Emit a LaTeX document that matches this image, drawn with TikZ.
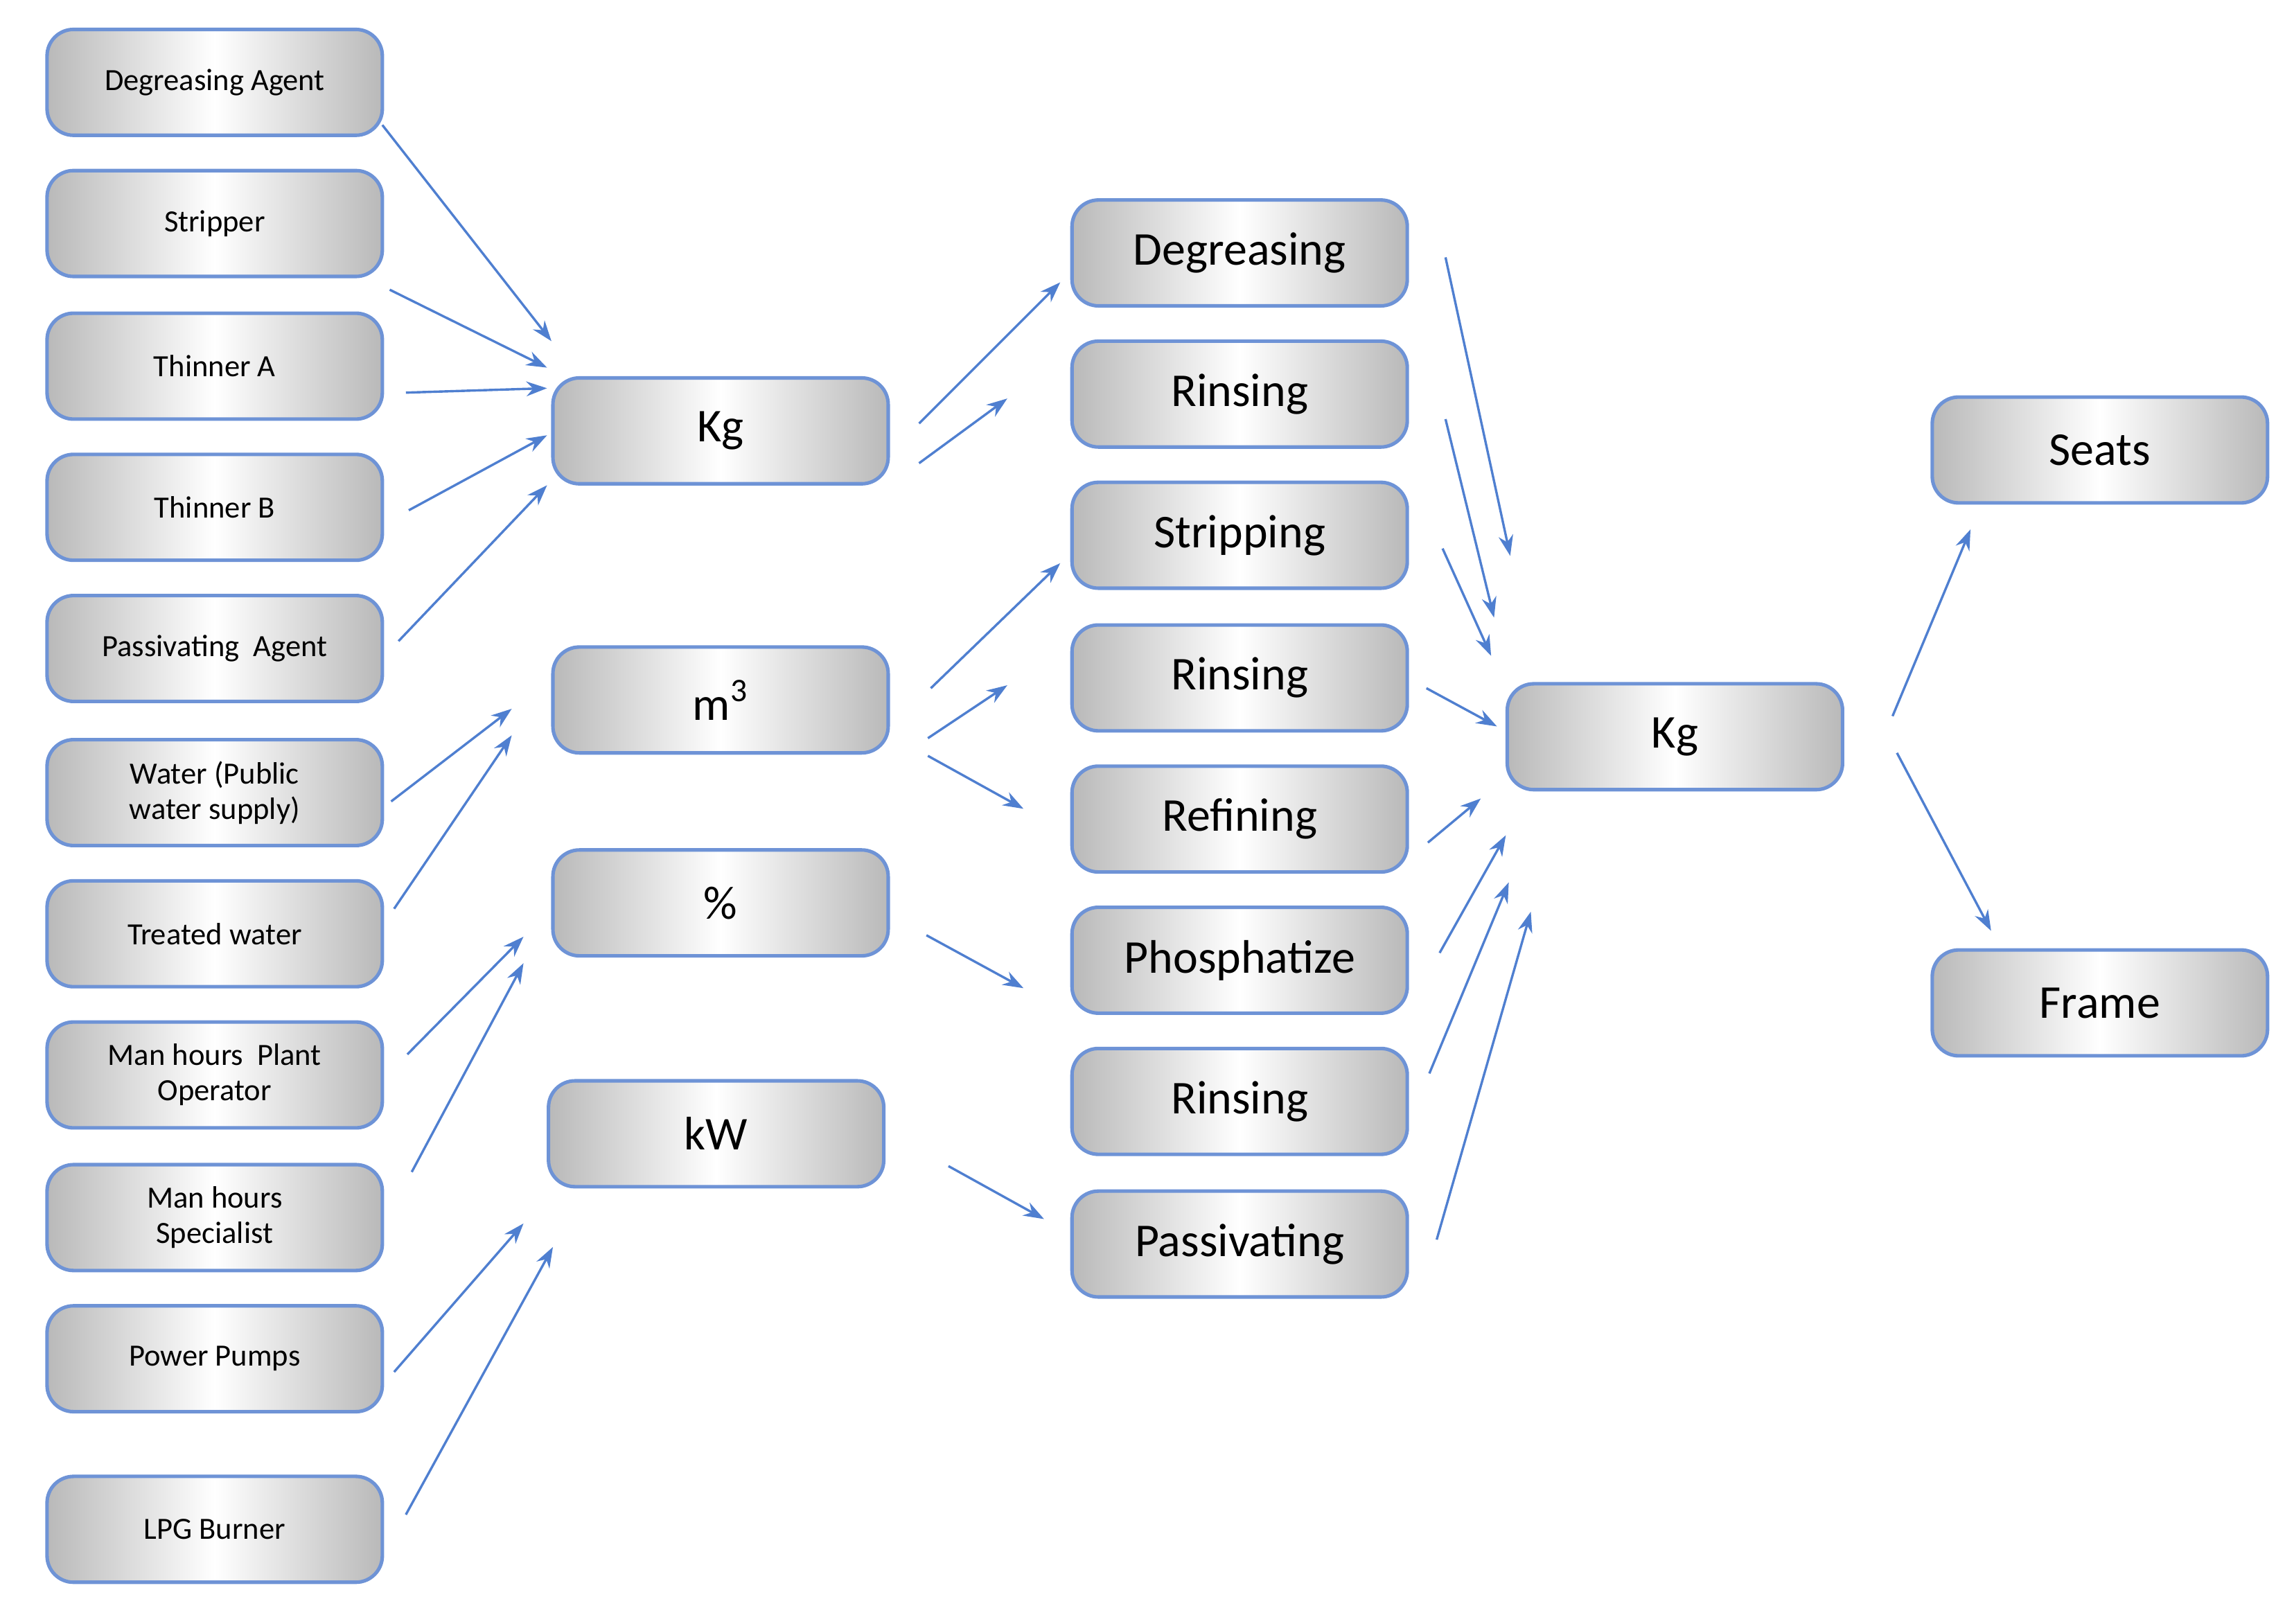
\documentclass[tikz,border=0pt]{standalone}
\usepackage{fontspec}
\setmainfont{Carlito}
\usetikzlibrary{arrows.meta}
\definecolor{bl}{HTML}{4F7FD0}
\definecolor{bd}{HTML}{6E93D6}
\tikzset{
 box/.style={draw=bd,line width=1.2pt,rounded corners=9pt,minimum width=114pt,minimum height=36pt,
   inner sep=1pt,align=center,left color=gray!55,right color=gray!55,middle color=white,
   font=\fontsize{10.5}{12}\selectfont},
 big/.style={box,font=\fontsize{16}{18}\selectfont},
 ar/.style={draw=bl,line width=0.8pt,-{Stealth[length=7pt,width=5pt]}}
}
\begin{document}
\begin{tikzpicture}[x=0.5pt,y=-0.5pt]
\useasboundingbox (0,0) rectangle (1560,1104);
\foreach \t/\y [count=\i] in {Degreasing Agent/56,Stripper/152,Thinner A/249,Thinner B/345,Passivating\ \ Agent/441,{Water (Public\\water supply)}/539,Treated water/635,{Man hours\ \ Plant\\Operator}/731,{Man hours\\Specialist}/828,Power Pumps/924,LPG Burner/1040}
  \node[box] (L\i) at (146,\y) {\t};
\node[big] (kg) at (490,293) {Kg};
\node[big] (m3) at (490,476) {m\textsuperscript{3}};
\node[big] (pc) at (490,614) {\%};
\node[big] (kw) at (487,771) {kW};
\foreach \t/\y [count=\i] in {Degreasing/172,Rinsing/268,Stripping/364,Rinsing/461,Refining/557,Phosphatize/653,Rinsing/749,Passivating/846}
  \node[big] (M\i) at (843,\y) {\t};
\node[big] (kg2) at (1139,501) {Kg};
\node[big] (seats) at (1428,306) {Seats};
\node[big] (frame) at (1428,682) {Frame};
\foreach \a/\b in {{260,85}/{375,232},{265,197}/{372,250},{276,267}/{372,264},{278,347}/{372,296},{271,436}/{372,330},
 {266,545}/{348,482},{268,618}/{348,500},{277,717}/{356,637},{280,797}/{356,655},{268,933}/{356,832},{276,1030}/{376,848},
 {625,288}/{721,192},{625,315}/{685,271},{633,468}/{721,383},{631,502}/{685,466},{631,514}/{696,550},{630,636}/{696,672},{645,793}/{710,829},
 {983,175}/{1027,378},{983,285}/{1016,420},{981,373}/{1014,446},{970,468}/{1018,494},{971,573}/{1007,543},{979,648}/{1024,568},{972,730}/{1026,600},{977,843}/{1041,620},
 {1287,487}/{1340,360},{1290,512}/{1354,633}}
  \draw[ar] (\a) -- (\b);
\end{tikzpicture}
\end{document}
